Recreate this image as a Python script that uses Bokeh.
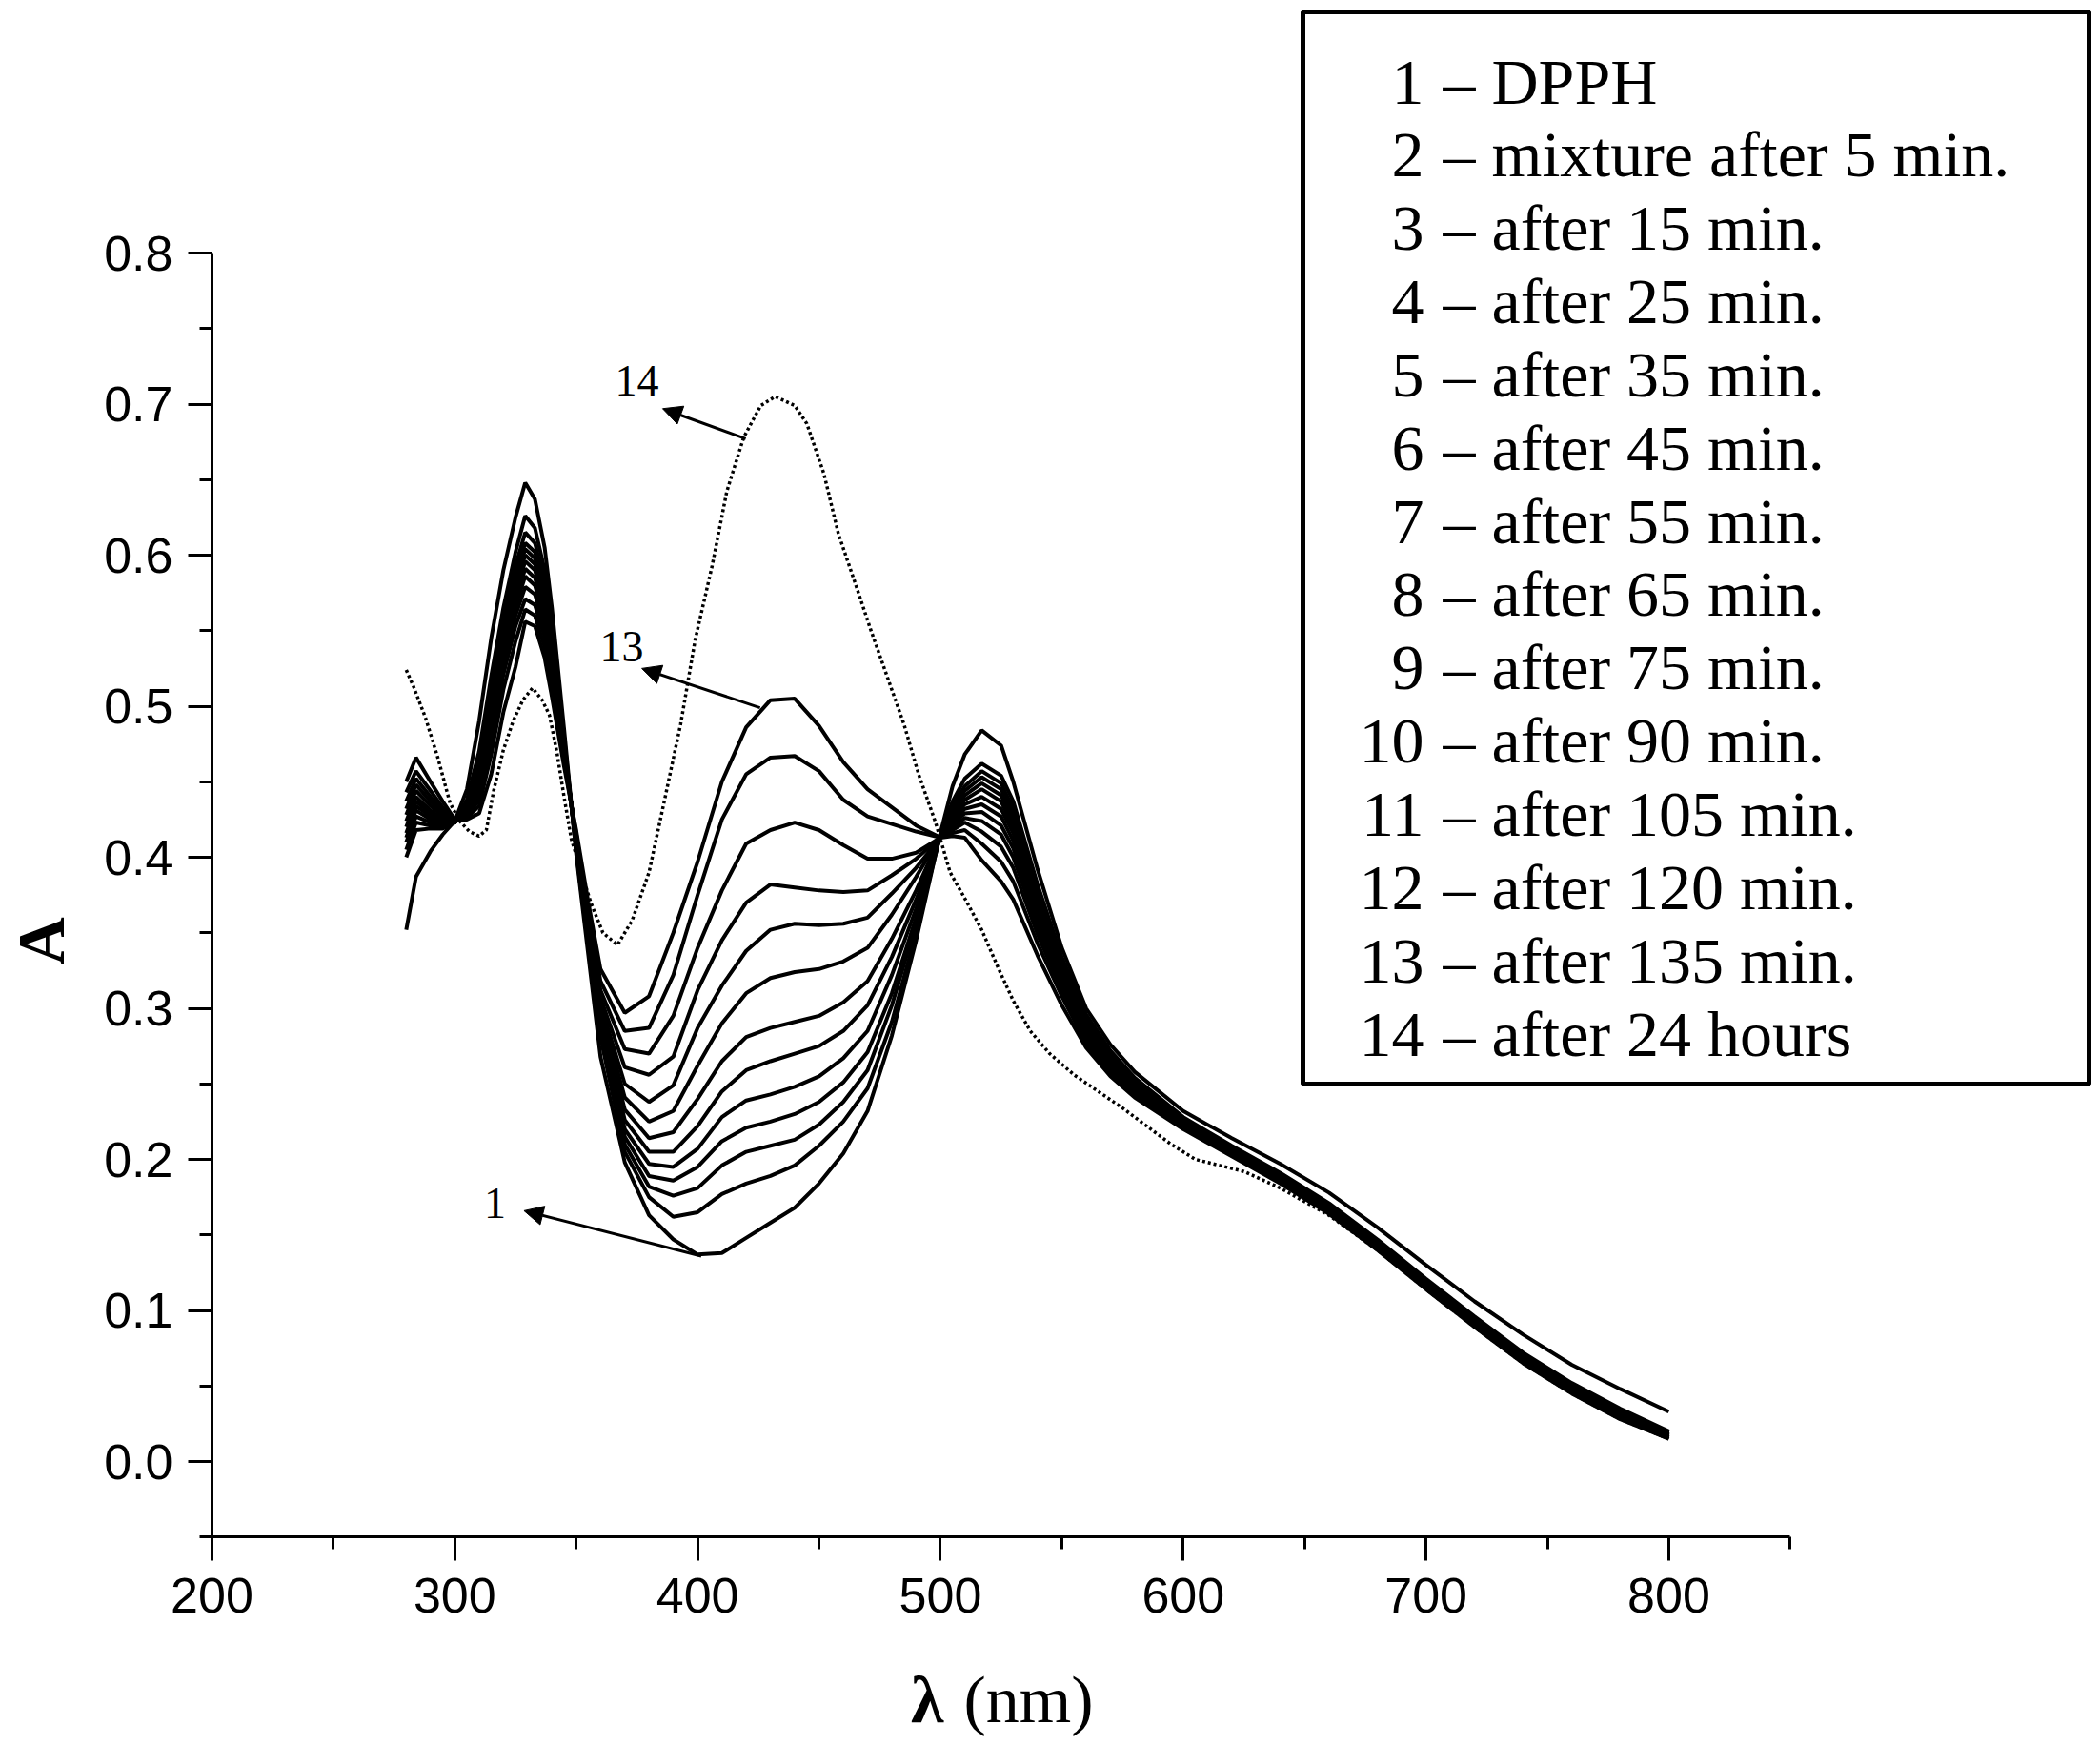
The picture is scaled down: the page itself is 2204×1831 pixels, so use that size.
from bokeh.plotting import figure
from bokeh.models import (Range1d, FixedTicker, PrintfTickFormatter, LabelSet,
                          ColumnDataSource, Arrow, NormalHead, BoxAnnotation, LinearAxis)
from bokeh.embed import file_html
from bokeh.resources import INLINE

# wavelengths (nm) of the read-off points for curves 1-13
wl = [280, 284, 290, 295, 300, 305, 310, 315, 320, 325, 329, 333, 337, 340, 345,
      350, 355, 360, 370, 380, 390, 400, 410, 420, 430, 440, 450, 460, 470, 480,
      490, 500, 505, 510, 517, 525, 530, 540, 550, 560, 570, 580, 600, 620, 640,
      660, 680, 700, 720, 740, 760, 780, 800]

a1 = [.352, .387, .404, .415, .424, .445, .490, .545, .590, .625, .648, .637, .605, .565, .485,
      .402, .335, .268, .198, .163, .147, .137, .138, .148, .158, .168, .184, .204, .232, .282,
      .345, .416, .447, .468, .484, .474, .450, .392, .340, .300, .276, .258, .232, .214, .197,
      .178, .155, .130, .106, .084, .064, .048, .033]
a2 = [.400, .418, .419, .419, .423, .438, .470, .520, .565, .602, .626, .618, .590, .553, .480,
      .404, .340, .281, .205, .175, .162, .165, .177, .184, .189, .196, .209, .225, .247, .291,
      .350, .415, .437, .452, .462, .454, .437, .382, .334, .296, .272, .254, .228, .209, .191,
      .171, .147, .121, .096, .072, .052, .035, .020]
a3 = [.405, .423, .421, .420, .423, .436, .465, .513, .558, .593, .615, .608, .582, .547, .478,
      .405, .343, .285, .210, .182, .176, .181, .196, .205, .209, .213, .223, .238, .259, .302,
      .356, .415, .434, .447, .457, .449, .432, .378, .331, .294, .270, .253, .227, .208, .190,
      .170, .146, .120, .095, .071, .051, .034, .019]
a4 = [.410, .427, .423, .421, .423, .434, .461, .508, .553, .587, .608, .602, .577, .543, .476,
      .406, .345, .288, .215, .189, .186, .195, .212, .221, .225, .230, .238, .251, .271, .310,
      .360, .414, .432, .444, .453, .445, .428, .375, .329, .292, .269, .252, .226, .208, .190,
      .170, .146, .120, .095, .071, .051, .034, .019]
a5 = [.413, .431, .425, .422, .423, .433, .458, .504, .549, .583, .604, .598, .573, .540, .475,
      .407, .347, .291, .220, .197, .195, .207, .228, .239, .243, .248, .255, .267, .285, .322,
      .366, .414, .430, .441, .449, .441, .424, .372, .327, .291, .268, .251, .226, .207, .189,
      .169, .145, .119, .094, .070, .050, .033, .018]
a6 = [.416, .434, .427, .423, .423, .432, .455, .500, .545, .579, .600, .594, .569, .537, .474,
      .408, .349, .294, .226, .205, .205, .222, .245, .259, .265, .270, .275, .285, .302, .334,
      .372, .414, .428, .438, .445, .437, .420, .369, .325, .289, .266, .250, .225, .207, .189,
      .169, .145, .119, .094, .070, .050, .033, .018]
a7 = [.420, .437, .429, .424, .423, .431, .452, .496, .541, .575, .596, .590, .565, .534, .473,
      .409, .351, .297, .233, .214, .218, .240, .265, .281, .287, .291, .295, .304, .318, .346,
      .378, .414, .426, .435, .440, .432, .416, .366, .323, .288, .265, .249, .225, .206, .188,
      .168, .144, .118, .093, .069, .049, .032, .017]
a8 = [.424, .440, .431, .425, .423, .430, .449, .492, .537, .571, .591, .585, .561, .531, .472,
      .410, .353, .300, .241, .225, .232, .262, .290, .310, .320, .324, .326, .331, .340, .362,
      .387, .414, .424, .432, .435, .427, .411, .362, .321, .286, .264, .248, .224, .206, .188,
      .168, .144, .118, .093, .069, .049, .032, .017]
a9 = [.428, .444, .434, .427, .424, .429, .446, .488, .533, .566, .586, .580, .557, .527, .470,
      .411, .355, .303, .250, .238, .249, .287, .315, .338, .352, .356, .355, .356, .360, .376,
      .393, .413, .422, .429, .430, .421, .406, .358, .318, .284, .262, .247, .224, .205, .187,
      .167, .143, .117, .092, .068, .048, .031, .017]
a10 = [.432, .448, .437, .429, .424, .428, .442, .483, .528, .560, .579, .574, .552, .523, .468,
       .412, .358, .307, .261, .256, .268, .312, .345, .370, .382, .380, .378, .377, .378, .388,
       .399, .413, .420, .426, .424, .415, .400, .354, .315, .282, .261, .246, .223, .205, .187,
       .167, .143, .117, .092, .068, .048, .031, .016]
a11 = [.437, .452, .440, .431, .424, .427, .438, .476, .521, .553, .571, .567, .546, .518, .466,
       .414, .361, .312, .273, .270, .295, .340, .378, .409, .418, .423, .418, .408, .399, .399,
       .403, .413, .418, .423, .417, .407, .393, .349, .312, .280, .259, .245, .222, .204, .186,
       .166, .142, .116, .091, .067, .047, .030, .016]
a12 = [.443, .457, .444, .433, .424, .426, .434, .468, .511, .543, .564, .560, .539, .512, .463,
       .416, .365, .318, .285, .287, .322, .375, .425, .455, .466, .467, .457, .438, .427, .422,
       .417, .413, .416, .418, .409, .397, .384, .343, .308, .277, .257, .243, .221, .203, .185,
       .165, .141, .115, .090, .066, .046, .029, .015]
a13 = [.450, .466, .450, .437, .425, .425, .429, .455, .496, .526, .556, .553, .532, .506, .460,
       .418, .370, .326, .297, .308, .350, .397, .450, .486, .504, .505, .487, .463, .445, .433,
       .421, .413, .414, .413, .398, .384, .372, .335, .302, .274, .255, .241, .220, .202, .184,
       .164, .140, .114, .089, .065, .045, .028, .015]

# curve 14 (after 24 hours, dotted)
wl14 = [280, 283, 288, 293, 298, 302, 306, 310, 313, 316, 320, 324, 328, 332, 336, 339, 342,
        345, 348, 352, 356, 361, 367, 373, 380, 386, 393, 399, 406, 412, 419, 426, 432, 440,
        445, 452, 458, 465, 471, 478, 485, 491, 498, 504, 511, 517, 524, 530, 537, 545, 555,
        565, 575, 585, 595, 605, 615, 625, 640, 660, 680, 700, 720, 740, 760, 780, 800]
a14 = [.524, .513, .492, .466, .436, .424, .417, .414, .418, .444, .471, .490, .504, .512, .504,
       .494, .470, .440, .412, .391, .370, .350, .342, .358, .390, .435, .488, .544, .593, .642,
       .678, .699, .705, .699, .687, .654, .614, .581, .552, .520, .488, .455, .423, .390, .370,
       .352, .326, .305, .285, .270, .256, .245, .234, .222, .210, .200, .196, .192, .181, .163,
       .140, .114, .089, .065, .045, .028, .015]

legend_nums = [str(i) for i in range(1, 15)]
legend_text = ["– DPPH", "– mixture after 5 min.", "– after 15 min.", "– after 25 min.",
               "– after 35 min.", "– after 45 min.", "– after 55 min.", "– after 65 min.",
               "– after 75 min.", "– after 90 min.", "– after 105 min.", "– after 120 min.",
               "– after 135 min.", "– after  24 hours"]

x_ticks = [200, 300, 400, 500, 600, 700, 800]
x_minor = [250, 350, 450, 550, 650, 750, 850]
y_ticks = [0.0, 0.1, 0.2, 0.3, 0.4, 0.5, 0.6, 0.7, 0.8]
y_minor = [-0.05, 0.05, 0.15, 0.25, 0.35, 0.45, 0.55, 0.65, 0.75]

W, H = 2204, 1831


# picture pixel -> data, used only to place the frame and the annotations
def sx(px):
    return 200 + (px - 222) / 2.5483


def sy(py):
    return (1533 - py) / 1585.0


def text_set(xs, ys, texts, size, align="left", style="normal", font="Liberation Serif",
             angle=0.0):
    src = ColumnDataSource(dict(x=xs, y=ys, text=texts))
    return LabelSet(x="x", y="y", text="text", source=src, text_align=align,
                    text_font=font, text_font_size=size, text_font_style=style,
                    text_baseline="alphabetic", text_color="black", angle=angle)


p = figure(width=W, height=H, output_backend="svg", toolbar_location=None,
           x_range=Range1d(sx(0), sx(W)), y_range=Range1d(sy(H), sy(0)),
           x_axis_location=None, y_axis_location=None,
           min_border_left=0, min_border_right=0, min_border_top=0, min_border_bottom=0)
p.outline_line_color = None
p.xgrid.visible = False
p.ygrid.visible = False

solid = [a1, a2, a3, a4, a5, a6, a7, a8, a9, a10, a11, a12, a13]
for a in solid:
    p.line(wl, a, line_color="black", line_width=4)
p.line(wl14, a14, line_color="black", line_width=3.5, line_dash="3 3")

xaxis = LinearAxis(fixed_location=-0.05, bounds=(200, 850),
                   ticker=FixedTicker(ticks=x_ticks, minor_ticks=x_minor))
yaxis = LinearAxis(fixed_location=200, bounds=(-0.05, 0.8),
                   ticker=FixedTicker(ticks=y_ticks, minor_ticks=y_minor),
                   formatter=PrintfTickFormatter(format="%.1f"))
for ax in (xaxis, yaxis):
    ax.axis_line_width = 3
    ax.major_tick_line_width = 3
    ax.minor_tick_line_width = 3
    ax.major_tick_in = 0
    ax.major_tick_out = 25
    ax.minor_tick_in = 0
    ax.minor_tick_out = 13
    ax.major_label_text_font = "Liberation Sans"
    ax.major_label_text_font_size = "52px"
    ax.major_label_text_color = "black"
xaxis.major_label_standoff = 18
yaxis.major_label_standoff = 16
p.add_layout(xaxis, "below")
p.add_layout(yaxis, "left")

# axis titles
p.add_layout(text_set([sx(66)], [sy(987)], ["A"], "70px", align="center", style="bold",
                      angle=1.5708))
p.add_layout(text_set([sx(990)], [sy(1806)], ["λ"], "70px", align="right", style="bold"))
p.add_layout(text_set([sx(1011)], [sy(1806)], ["(nm)"], "70px"))

# curve markers with arrows
p.add_layout(text_set([sx(668), sx(652), sx(519)], [sy(414), sy(693), sy(1277)],
                      ["14", "13", "1"], "46px", align="center"))
for x0, y0, x1, y1 in [(419.8, 0.677, 385.6, 0.697),
                       (425.7, 0.499, 377.0, 0.525),
                       (401.5, 0.136, 328.5, 0.166)]:
    p.add_layout(Arrow(x_start=x0, y_start=y0, x_end=x1, y_end=y1, line_width=3,
                       end=NormalHead(size=20, fill_color="black", line_color="black")))

# legend box
p.add_layout(BoxAnnotation(left=sx(1367), right=sx(2192), top=sy(12), bottom=sy(1137),
                           fill_alpha=0, line_color="black", line_width=5, line_alpha=1))
rows = [sy(108 + i * 76.85) for i in range(14)]
p.add_layout(text_set([sx(1494)] * 14, rows, legend_nums, "68px", align="right"))
p.add_layout(text_set([sx(1514)] * 14, rows, legend_text, "68px"))

open("out.html", "w").write(file_html(p, INLINE))
